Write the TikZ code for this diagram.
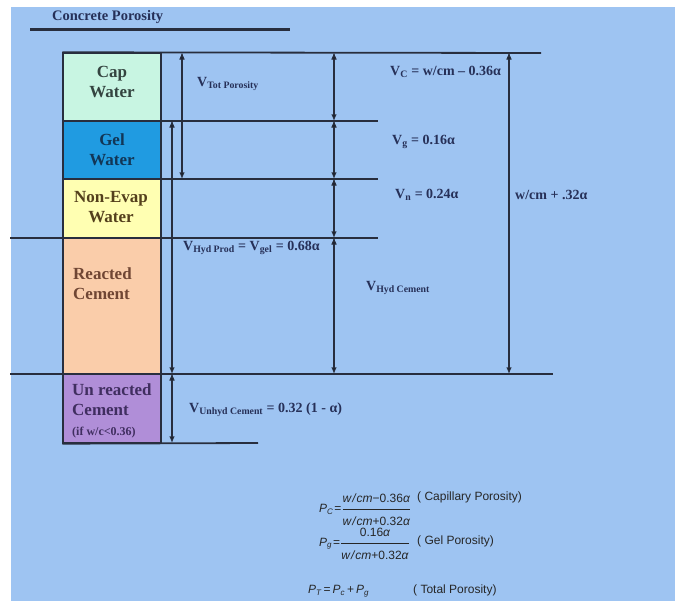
\documentclass[tikz,border=0pt]{standalone}
\usepackage{fontspec}
\setmainfont{Liberation Serif}
\newfontfamily\eqfont{Liberation Sans}
\usetikzlibrary{arrows.meta}
\definecolor{pagebg}{RGB}{158,196,242}
\definecolor{inkcol}{RGB}{40,46,62}
\definecolor{titlecol}{RGB}{38,48,88}
\definecolor{capfill}{RGB}{200,245,226}
\definecolor{gelfill}{RGB}{32,155,225}
\definecolor{evapfill}{RGB}{255,255,178}
\definecolor{reactfill}{RGB}{250,205,170}
\definecolor{unreactfill}{RGB}{176,142,216}
\tikzset{
    dimarrow/.style={{Latex[length=6.5pt,width=5.5pt]}-{Latex[length=6.5pt,width=5.5pt]}, line width=1.2pt, draw=inkcol},
    refline/.style={line width=1.8pt, draw=inkcol},
    cellbox/.style={draw=inkcol, line width=1.4pt, minimum width=98pt, inner sep=0pt},
    celltext/.style={font=\bfseries\fontsize{17}{20}\selectfont, align=center, inner sep=0pt},
    dimlabel/.style={anchor=west, inner sep=0pt, text=titlecol, font=\bfseries\fontsize{14}{16}\selectfont},
    eqlabel/.style={anchor=west, inner sep=0pt, text=black!85, font=\eqfont\fontsize{12}{14}\selectfont}
}
\newcommand{\eqit}[1]{\mbox{\eqfont\itshape #1}}
\newcommand{\equp}[1]{\mbox{\eqfont #1}}
\newcommand{\wcm}{\eqit{w\kern1pt/\kern1pt cm}}

\begin{document}
\begin{tikzpicture}[x=1pt,y=-1pt]
    \useasboundingbox (0,0) rectangle (675,601);
    \fill[pagebg] (11,7) rectangle (675,601);

    % title
    \node[anchor=west, inner sep=0pt, text=titlecol, font=\bfseries\fontsize{14.5}{16}\selectfont] (title) at (52,17) {Concrete Porosity};
    \coordinate (ul-l) at (30,30);
    \coordinate (ul-r) at (290,30);
    \draw[line width=3pt, inkcol] (ul-l) -- (ul-r);

    % phase column
    \node[cellbox, fill=capfill, minimum height=68pt] (cap) at (112,87) {};
    \node[cellbox, fill=gelfill, minimum height=58pt] (gel) at (112,150) {};
    \node[cellbox, fill=evapfill, minimum height=59pt] (evap) at (112,208.5) {};
    \node[cellbox, fill=reactfill, minimum height=136pt] (react) at (112,306) {};
    \node[cellbox, fill=unreactfill, minimum height=69pt] (unreact) at (112,408.5) {};

    \node[celltext, text={rgb,255:red,52;green,68;blue,64}] (capt) at (112,82) {Cap\\Water};
    \node[celltext, text={rgb,255:red,18;green,54;blue,86}] (gelt) at (112,150) {Gel\\Water};
    \node[celltext, text={rgb,255:red,84;green,64;blue,28}] (evapt) at (111,207) {Non-Evap\\Water};
    \node[celltext, anchor=west, align=left, text={rgb,255:red,112;green,70;blue,52}] (reactt) at (73,284) {Reacted\\Cement};
    \node[celltext, anchor=west, align=left, text={rgb,255:red,64;green,46;blue,96}] (unreactt) at (72,411) {Un reacted\\Cement\\{\fontsize{12}{14}\selectfont (if w/c<0.36)}};

    % level lines
    \coordinate (y53-r) at (541,53);
    \coordinate (y121-l) at (161,121);
    \coordinate (y121-r) at (378,121);
    \coordinate (y179-l) at (161,179);
    \coordinate (y179-r) at (378,179);
    \coordinate (y238-l) at (10,238);
    \coordinate (y238-r) at (378,238);
    \coordinate (y374-l) at (10,374);
    \coordinate (y374-r) at (553,374);
    \coordinate (y443-r) at (258,443);

    \path[refline] (cap.north west) edge (y53-r);
    \path[refline] (y121-l) edge (y121-r);
    \path[refline] (y179-l) edge (y179-r);
    \path[refline] (y238-l) edge (y238-r);
    \path[refline] (y374-l) edge (y374-r);
    \path[refline] (unreact.south west) edge (y443-r);

    % dimension arrows
    \coordinate (tot-t) at (182,53);
    \coordinate (tot-b) at (182,179);
    \coordinate (hyd-t) at (172,121);
    \coordinate (hyd-b) at (172,374);
    \coordinate (unh-b) at (172,443);
    \coordinate (v-a) at (334,53);
    \coordinate (v-b) at (334,121);
    \coordinate (v-c) at (334,179);
    \coordinate (v-d) at (334,238);
    \coordinate (v-e) at (334,374);
    \coordinate (all-t) at (509,53);
    \coordinate (all-b) at (509,374);

    \path[dimarrow] (tot-t) edge (tot-b);
    \path[dimarrow] (hyd-t) edge (hyd-b);
    \path[dimarrow] (hyd-b) edge (unh-b);
    \path[dimarrow] (v-a) edge (v-b);
    \path[dimarrow] (v-b) edge (v-c);
    \path[dimarrow] (v-c) edge (v-d);
    \path[dimarrow] (v-d) edge (v-e);
    \path[dimarrow] (all-t) edge (all-b);

    % volume labels
    \node[dimlabel] (vtot) at (197,84) {V\textsubscript{Tot Porosity}};
    \node[dimlabel] (vc) at (390,72) {V\textsubscript{C} = w/cm -- 0.36α};
    \node[dimlabel] (vg) at (392,142) {V\textsubscript{g} = 0.16α};
    \node[dimlabel] (vn) at (395,195) {V\textsubscript{n} = 0.24α};
    \node[dimlabel] (vall) at (515,195) {w/cm + .32α};
    \node[dimlabel] (vprod) at (183,248) {V\textsubscript{Hyd Prod} = V\textsubscript{gel} = 0.68α};
    \node[dimlabel] (vhyd) at (366,288) {V\textsubscript{Hyd Cement}};
    \node[dimlabel] (vunh) at (189,410) {V\textsubscript{Unhyd Cement} = 0.32 (1 - α)};

    % porosity formulas
    \node[eqlabel] (pc) at (319,510) {\eqit{P\textsubscript{C}}\equp{\kern1pt=}$\displaystyle\frac{\wcm\equp{−0.36}\eqit{α}\rule[-5pt]{0pt}{5pt}}{\rule{0pt}{15pt}\wcm\equp{+0.32}\eqit{α}}$};
    \node[eqlabel] (pct) at (417,497) {( Capillary Porosity)};
    \node[eqlabel] (pg) at (319,544) {\eqit{P\textsubscript{g}}\equp{\kern1pt=}$\displaystyle\frac{\equp{0.16}\eqit{α}\rule[-5pt]{0pt}{5pt}}{\rule{0pt}{15pt}\wcm\equp{+0.32}\eqit{α}}$};
    \node[eqlabel] (pgt) at (417,541) {( Gel Porosity)};
    \node[eqlabel] (pt) at (308,591) {\eqit{P\textsubscript{T}}\equp{\,=\,}\eqit{P\textsubscript{c}}\equp{\,+\,}\eqit{P\textsubscript{g}}};
    \node[eqlabel] (ptt) at (413,590) {( Total Porosity)};
\end{tikzpicture}
\end{document}
